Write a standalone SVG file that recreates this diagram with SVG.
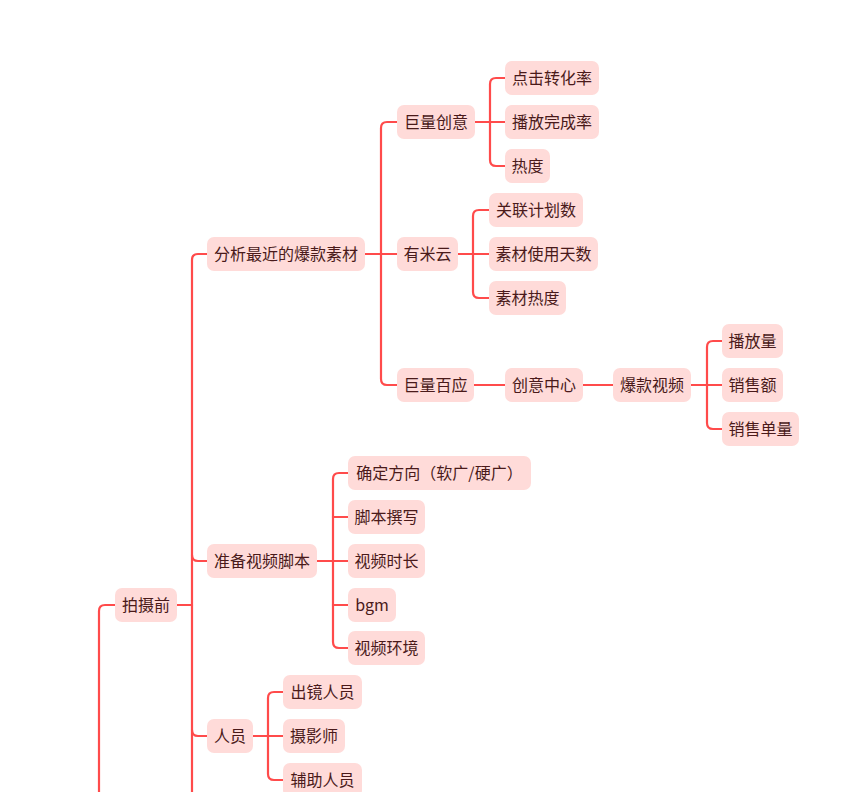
<svg xmlns="http://www.w3.org/2000/svg" width="846" height="792" viewBox="0 0 846 792">
<style>
.n rect{fill:#FFDBD9;}
.n text{font-family:"Noto Sans CJK SC","Noto Sans",sans-serif;font-size:16px;fill:#4A1A1A;text-anchor:middle;}
.c path{fill:none;stroke:#FF4B4B;stroke-width:2.2;stroke-linecap:round;}
</style>
<rect x="0" y="0" width="846" height="792" fill="#FFFFFF"/>
<g class="c" id="connectors">
<path d="M99,800 V611 Q99,605 105,605 H115"/>
<path d="M177,605 H192"/>
<path d="M192,800 V260 Q192,254 198,254 H207"/>
<path d="M192,555 Q192,561 198,561 H207"/>
<path d="M192,730 Q192,736 198,736 H207"/>
<path d="M365,254 H397"/>
<path d="M381,254 V128 Q381,122 387,122 H397"/>
<path d="M381,254 V379 Q381,385 387,385 H397"/>
<path d="M475,122 H505"/>
<path d="M490,122 V84 Q490,78 496,78 H505"/>
<path d="M490,122 V160 Q490,166 496,166 H505"/>
<path d="M458,254 H489"/>
<path d="M473,254 V216 Q473,210 479,210 H489"/>
<path d="M473,254 V292 Q473,298 479,298 H489"/>
<path d="M474,385 H505"/>
<path d="M583,385 H613"/>
<path d="M691,385 H722"/>
<path d="M707,385 V347 Q707,341 713,341 H722"/>
<path d="M707,385 V423 Q707,429 713,429 H722"/>
<path d="M317,561 H348"/>
<path d="M333,561 V479 Q333,473 339,473 H348"/>
<path d="M333,517 H348"/>
<path d="M333,561 V642 Q333,648 339,648 H348"/>
<path d="M333,605 H348"/>
<path d="M253,736 H283"/>
<path d="M268,736 V698 Q268,692 274,692 H283"/>
<path d="M268,736 V774 Q268,780 274,780 H283"/>
</g>
<g class="n" id="n-fenxi"><rect x="207" y="237" width="158" height="34" rx="7"/><text x="286" y="260">分析最近的爆款素材</text></g>
<g class="n" id="n-julcy"><rect x="397" y="105" width="78" height="34" rx="7"/><text x="436" y="128">巨量创意</text></g>
<g class="n" id="n-youmi"><rect x="397" y="237" width="61" height="34" rx="7"/><text x="427.5" y="260">有米云</text></g>
<g class="n" id="n-julby"><rect x="397" y="368" width="77" height="34" rx="7"/><text x="435.5" y="391">巨量百应</text></g>
<g class="n" id="n-djzhl"><rect x="505" y="61" width="94" height="34" rx="7"/><text x="552" y="84">点击转化率</text></g>
<g class="n" id="n-bfwcl"><rect x="505" y="105" width="94" height="34" rx="7"/><text x="552" y="128">播放完成率</text></g>
<g class="n" id="n-redu"><rect x="505" y="149" width="45" height="34" rx="7"/><text x="527.5" y="172">热度</text></g>
<g class="n" id="n-gljhs"><rect x="489" y="193" width="94" height="34" rx="7"/><text x="536" y="216">关联计划数</text></g>
<g class="n" id="n-scsyts"><rect x="489" y="237" width="109" height="34" rx="7"/><text x="543.5" y="260">素材使用天数</text></g>
<g class="n" id="n-scrd"><rect x="489" y="281" width="77" height="34" rx="7"/><text x="527.5" y="304">素材热度</text></g>
<g class="n" id="n-cyzx"><rect x="505" y="368" width="78" height="34" rx="7"/><text x="544" y="391">创意中心</text></g>
<g class="n" id="n-bksp"><rect x="613" y="368" width="78" height="34" rx="7"/><text x="652" y="391">爆款视频</text></g>
<g class="n" id="n-bfl"><rect x="722" y="324" width="61" height="34" rx="7"/><text x="752.5" y="347">播放量</text></g>
<g class="n" id="n-xse"><rect x="722" y="368" width="61" height="34" rx="7"/><text x="752.5" y="391">销售额</text></g>
<g class="n" id="n-xsdl"><rect x="722" y="412" width="77" height="34" rx="7"/><text x="760.5" y="435">销售单量</text></g>
<g class="n" id="n-psq"><rect x="115" y="588" width="62" height="34" rx="7"/><text x="146" y="611">拍摄前</text></g>
<g class="n" id="n-zbspjb"><rect x="207" y="544" width="110" height="34" rx="7"/><text x="262" y="567">准备视频脚本</text></g>
<g class="n" id="n-renyuan"><rect x="207" y="719" width="46" height="34" rx="7"/><text x="230" y="742">人员</text></g>
<g class="n" id="n-qdfx"><rect x="348" y="456" width="183" height="34" rx="7"/><text x="439.5" y="479">确定方向（软广/硬广）</text></g>
<g class="n" id="n-jbzx"><rect x="348" y="500" width="77" height="34" rx="7"/><text x="386.5" y="523">脚本撰写</text></g>
<g class="n" id="n-spsc"><rect x="348" y="544" width="77" height="34" rx="7"/><text x="386.5" y="567">视频时长</text></g>
<g class="n" id="n-bgm"><rect x="348" y="588" width="48" height="34" rx="7"/><text x="372" y="611">bgm</text></g>
<g class="n" id="n-sphj"><rect x="348" y="631" width="77" height="34" rx="7"/><text x="386.5" y="654">视频环境</text></g>
<g class="n" id="n-cjry"><rect x="283" y="675" width="79" height="34" rx="7"/><text x="322.5" y="698">出镜人员</text></g>
<g class="n" id="n-sys"><rect x="283" y="719" width="62" height="34" rx="7"/><text x="314" y="742">摄影师</text></g>
<g class="n" id="n-fzry"><rect x="283" y="763" width="79" height="34" rx="7"/><text x="322.5" y="786">辅助人员</text></g>
</svg>
